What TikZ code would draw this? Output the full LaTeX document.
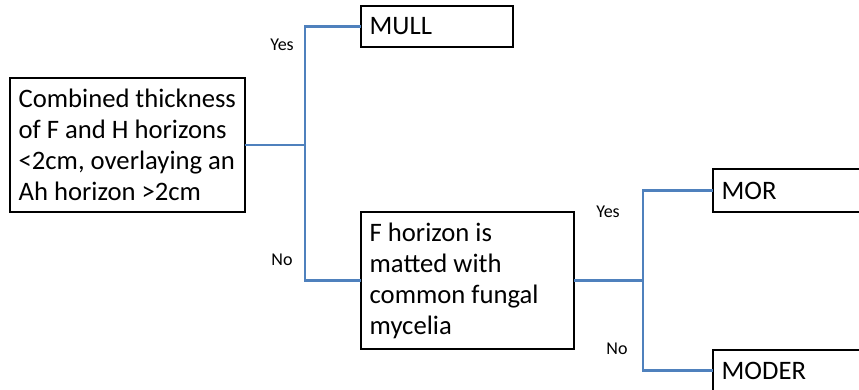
\documentclass[tikz,border=0pt]{standalone}
\usepackage{fontspec}
\setmainfont{Carlito}
\usepackage{tikz}
\usetikzlibrary{shadows}
\definecolor{linkblue}{RGB}{79,129,189}

\begin{document}
\begin{tikzpicture}[x = .75pt, y = -.75pt,
  box/.style = {draw, line width=1.4pt, fill=white, anchor=north west, align=flush left,
    inner xsep=6.5pt, inner ysep=0pt, outer sep=0pt, font=\fontsize{20}{23.3}\selectfont,
    drop shadow={opacity=.25, shadow xshift=.8pt, shadow yshift=-.8pt}},
  link/.style = {linkblue, line width=1.7pt},
  ans/.style = {font=\fontsize{13.5}{15}\selectfont}]
  \useasboundingbox (0, 0) rectangle (859, 389);
  \clip (0, 0) rectangle (859, 389);
  \fill[white] (0, 0) rectangle (859, 389);
  % boxes
  \node[box, text width=163pt, minimum height=100.5pt] (cond) at (10, 78)
    {Combined thickness\\of F and H horizons\\<2cm, overlaying an\\Ah horizon >2cm};
  \node[box, text width=101pt, minimum height=30.75pt] (mull) at (361, 6) {MULL};
  \node[box, text width=147pt, minimum height=102.75pt] (fhor) at (361, 212)
    {F horizon is\\matted with\\common fungal\\mycelia};
  \node[box, text width=120pt, minimum height=32.25pt] (mor) at (713, 169) {MOR};
  \node[box, text width=120pt, minimum height=30.75pt] (moder) at (713, 350) {MODER};
  % connectors
  \path (cond.east) -- ++(60, 0) coordinate (j1);
  \path (fhor.east) -- ++(69, 0) coordinate (j2);
  \draw[link] (cond.east) -- (j1) |- (mull.west);
  \draw[link] (j1) |- (fhor.west);
  \draw[link] (fhor.east) -- (j2) |- (mor.west);
  \draw[link] (j2) |- (moder.west);
  % answers
  \node[ans] (yes1) at (282, 45) {Yes};
  \node[ans] (no1) at (282, 260) {No};
  \node[ans] (yes2) at (608, 212) {Yes};
  \node[ans] (no2) at (617, 349) {No};
\end{tikzpicture}
\end{document}
